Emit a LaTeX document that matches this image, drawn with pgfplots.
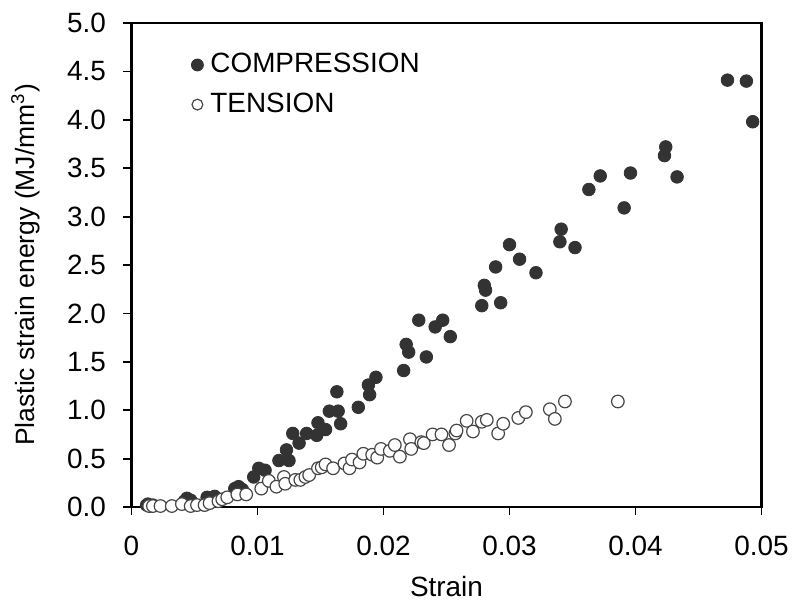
\documentclass[border=0pt]{standalone}
\usepackage{fontspec}
\setmainfont{Liberation Sans}
\usepackage{pgfplots}
\pgfplotsset{compat=1.18}
\usetikzlibrary{calc}
\definecolor{comp}{RGB}{51,51,51}
\definecolor{tens}{RGB}{70,70,70}

\begin{document}
\fontsize{14}{16.5}\selectfont
\begin{tikzpicture}
\begin{axis}[
    name=ax,
    scale only axis,
    width=315bp, height=242bp,
    xmin=0, xmax=0.05, ymin=0, ymax=5,
    xtick={0,0.01,0.02,0.03,0.04,0.05},
    ytick={0,0.5,...,5},
    scaled x ticks=false,
    xticklabel style={/pgf/number format/fixed, /pgf/number format/precision=2, yshift=-5.5bp},
    yticklabel style={/pgf/number format/fixed, /pgf/number format/precision=1, /pgf/number format/fixed zerofill, xshift=-4bp},
    /pgf/number format/assume math mode=true,
    tick align=outside,
    major tick length=4bp,
    xtick pos=bottom, ytick pos=left,
    axis line style={line width=1.1bp},
    tick style={line width=0.9bp, black},
    xlabel={Strain},
    ylabel={Plastic strain energy (MJ/mm\textsuperscript{3})},
    xlabel style={yshift=-1bp},
    ylabel style={yshift=4bp, font=\fontsize{13.3}{16}\selectfont},
    legend style={draw=none, fill=none, at={(0.085,0.955)}, anchor=north west,
        row sep=4bp, font=\fontsize{14}{16.5}\selectfont},
    legend cell align=left,
    legend image code/.code={\draw[#1] plot coordinates {(0bp,0bp)};\path[draw=none,fill=none] (-3bp,0bp) -- (4.5bp,0bp);},
]
\addplot[only marks, mark=*, mark size=3.15bp, draw=comp, fill=comp, line width=0.4bp,
    legend image post style={mark size=3bp}] coordinates {
(0.0012,0.02) (0.0013,0.03) (0.0015,0.01) (0.0017,0.02) (0.0042,0.06) (0.0044,0.09)
(0.0047,0.07) (0.0060,0.10) (0.0063,0.09) (0.0066,0.11) (0.0082,0.19) (0.0085,0.21)
(0.0088,0.18) (0.0097,0.31) (0.0101,0.40) (0.0106,0.38) (0.0117,0.48) (0.0123,0.59)
(0.0125,0.48) (0.0128,0.76) (0.0133,0.66) (0.0139,0.76) (0.0147,0.74) (0.0148,0.87)
(0.0154,0.80) (0.0157,0.99) (0.0163,1.19) (0.0164,0.99) (0.0166,0.86) (0.0180,1.03)
(0.0188,1.26) (0.0189,1.16) (0.0194,1.34) (0.0216,1.41) (0.0218,1.68) (0.0220,1.60)
(0.0228,1.93) (0.0234,1.55) (0.0241,1.86) (0.0247,1.93) (0.0253,1.76) (0.0278,2.08)
(0.0280,2.29) (0.0281,2.24) (0.0289,2.48) (0.0293,2.11) (0.0300,2.71) (0.0308,2.56)
(0.0321,2.42) (0.0340,2.74) (0.0341,2.87) (0.0352,2.68) (0.0363,3.28) (0.0372,3.42)
(0.0391,3.09) (0.0396,3.45) (0.0423,3.63) (0.0424,3.72) (0.0433,3.41) (0.0473,4.41)
(0.0488,4.40) (0.0493,3.98)
};
\addlegendentry{COMPRESSION}
\addplot[only marks, mark=*, mark size=3.15bp, draw=tens, fill=white, line width=0.6bp,
    legend image post style={mark size=2.7bp}] coordinates {
(0.0014,0.01) (0.0017,0.01) (0.0023,0.01) (0.0032,0.01) (0.0040,0.03) (0.0047,0.01)
(0.0052,0.02) (0.0058,0.02) (0.0062,0.04) (0.0069,0.06) (0.0072,0.08) (0.0076,0.10)
(0.0084,0.13) (0.0091,0.13) (0.0103,0.19) (0.0109,0.27) (0.0115,0.21) (0.0121,0.31)
(0.0122,0.24) (0.0130,0.28) (0.0134,0.28) (0.0138,0.31) (0.0141,0.33) (0.0148,0.40)
(0.0151,0.41) (0.0154,0.44) (0.0160,0.40) (0.0169,0.45) (0.0173,0.40) (0.0175,0.49)
(0.0181,0.46) (0.0184,0.55) (0.0191,0.54) (0.0195,0.51) (0.0198,0.60) (0.0205,0.58)
(0.0209,0.64) (0.0213,0.52) (0.0221,0.70) (0.0222,0.60) (0.0230,0.67) (0.0232,0.66)
(0.0239,0.75) (0.0246,0.75) (0.0252,0.64) (0.0257,0.76) (0.0258,0.79) (0.0266,0.89)
(0.0271,0.78) (0.0278,0.88) (0.0282,0.90) (0.0291,0.76) (0.0295,0.86) (0.0307,0.92)
(0.0313,0.98) (0.0332,1.01) (0.0336,0.91) (0.0344,1.09) (0.0386,1.09)
};
\addlegendentry{TENSION}
\end{axis}
\pgfresetboundingbox
\useasboundingbox ($(ax.south west)+(-65.75bp,-50bp)$) rectangle ($(ax.north east)+(19.25bp,11.5bp)$);
\end{tikzpicture}
\end{document}
